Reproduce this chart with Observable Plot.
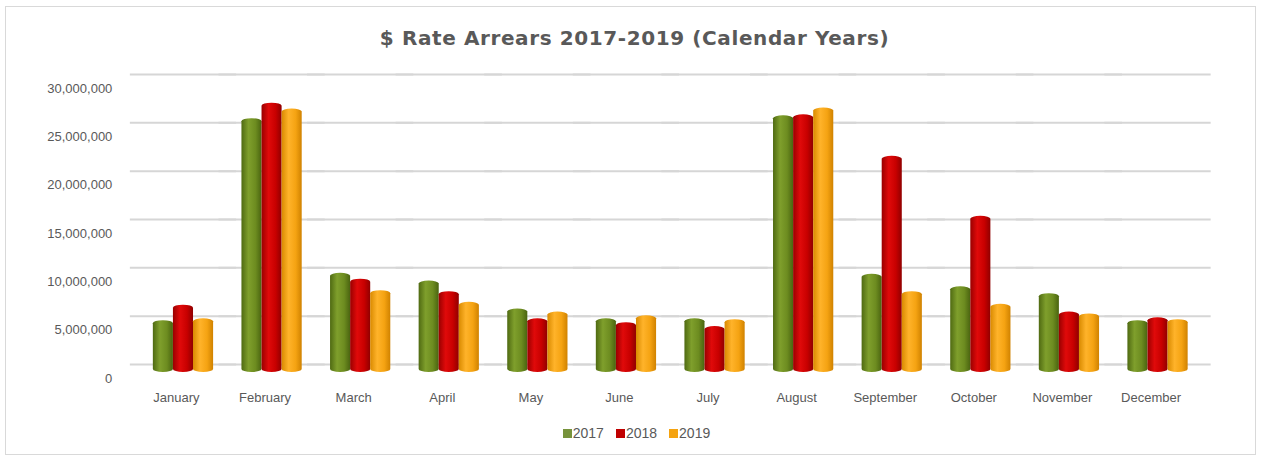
<!DOCTYPE html>
<html>
<head>
<meta charset="utf-8">
<script src="https://cdn.jsdelivr.net/npm/d3@7"></script>
<script src="https://cdn.jsdelivr.net/npm/@observablehq/plot@0.6"></script>
<style>
  html, body { margin: 0; padding: 0; background: #fff; }
  #wrap { position: relative; width: 1261px; height: 459px; overflow: hidden; }
  #frame { position: absolute; left: 5px; top: 6px; width: 1251px; height: 449px; border: 1px solid #d9d9d9; box-sizing: border-box; }
  #title { position: absolute; left: 4px; top: 26px; width: 1261px; text-align: center;
    font-family: "DejaVu Sans", sans-serif; font-weight: bold; font-size: 20px; color: #595959; letter-spacing: 0.6px; }
  #legend { position: absolute; left: 6px; top: 425px; width: 1261px; text-align: center;
    font-family: "Liberation Sans", Arial, sans-serif; font-size: 14px; color: #595959; }
  #legend span.item { margin: 0 6px; }
  #legend span.sw { display: inline-block; width: 9px; height: 9px; margin-right: 1px; vertical-align: 0px; }
  #chart { position: absolute; left: 0; top: 0; }
</style>
</head>
<body>
<svg width="0" height="0" style="position:absolute">
  <defs>
    <linearGradient id="g2017" x1="0" x2="1" y1="0" y2="0">
      <stop offset="0" stop-color="#4f6a12"/>
      <stop offset="0.35" stop-color="#7f9f2c"/>
      <stop offset="0.7" stop-color="#6d8c20"/>
      <stop offset="1" stop-color="#4a6410"/>
    </linearGradient>
    <linearGradient id="g2018" x1="0" x2="1" y1="0" y2="0">
      <stop offset="0" stop-color="#9a0000"/>
      <stop offset="0.35" stop-color="#e00a0a"/>
      <stop offset="0.7" stop-color="#c80000"/>
      <stop offset="1" stop-color="#900000"/>
    </linearGradient>
    <linearGradient id="g2019" x1="0" x2="1" y1="0" y2="0">
      <stop offset="0" stop-color="#d98a00"/>
      <stop offset="0.35" stop-color="#ffb32a"/>
      <stop offset="0.7" stop-color="#f5a312"/>
      <stop offset="1" stop-color="#d08200"/>
    </linearGradient>
  </defs>
</svg>
<div id="wrap">
  <div id="frame"></div>
  <div id="chart"></div>
  <div id="title">$ Rate Arrears 2017-2019 (Calendar Years)</div>
  <div id="legend"></div>
</div>
<script>
const months = ["January","February","March","April","May","June","July","August","September","October","November","December"];
const years = ["2017","2018","2019"];
const colors = ["#77933c","#c00000","#f5a30f"];
const v2017 = [5100000, 26000000, 10000000, 9200000, 6300000, 5300000, 5300000, 26300000, 9900000, 8600000, 7900000, 5100000];
const v2018 = [6700000, 27600000, 9400000, 8100000, 5300000, 4900000, 4500000, 26400000, 22100000, 15900000, 6000000, 5400000];
const v2019 = [5300000, 27000000, 8200000, 7000000, 6000000, 5600000, 5200000, 27100000, 8100000, 6800000, 5800000, 5200000];
const yTicks = [0, 5000000, 10000000, 15000000, 20000000, 25000000, 30000000];

const series = [v2017, v2018, v2019];
const data = [];
months.forEach((m, i) => years.forEach((y, j) => data.push({month: m, year: y, value: series[j][i]})));

const fmt = d3.format(",");
const plot = Plot.plot({
  width: 1261,
  height: 459,
  marginLeft: 124.5,
  marginRight: 45,
  marginTop: 82,
  marginBottom: 87,
  style: {fontFamily: "'Liberation Sans', Arial, sans-serif", fontSize: "13px", color: "#595959", background: "transparent", overflow: "visible"},
  fx: {domain: months, paddingInner: 0.32, paddingOuter: 0.32, round: false, label: null, axis: null},
  x: {domain: years, padding: 0, round: false, axis: null},
  y: {domain: [0, 30000000], axis: null, label: null},
  color: {domain: years, range: years.map(y => `url(#g${y})`)},
  marks: [
    Plot.ruleY(yTicks, {y: d => d, stroke: "#d6d6d6", strokeWidth: 2, dy: -8, insetLeft: -23, insetRight: -23}),
    Plot.barY(data, {fx: "month", x: "year", y: "value", fill: "year", rx: 10, ry: 3, insetTop: -2.5}),
    Plot.axisY(yTicks, {tickSize: 0, tickPadding: 41, dy: 6, tickFormat: fmt, fill: "#595959", fontSize: 13, label: null}),
    Plot.axisFx({anchor: "bottom", tickSize: 0, tickPadding: 20, dx: -7, label: null, fill: "#595959", fontSize: 13})
  ]
});
document.getElementById("chart").appendChild(plot);

const legend = document.getElementById("legend");
years.forEach((y, j) => {
  const item = document.createElement("span");
  item.className = "item";
  const sw = document.createElement("span");
  sw.className = "sw";
  sw.style.background = colors[j];
  item.appendChild(sw);
  item.appendChild(document.createTextNode(y));
  legend.appendChild(item);
});
</script>
</body>
</html>
